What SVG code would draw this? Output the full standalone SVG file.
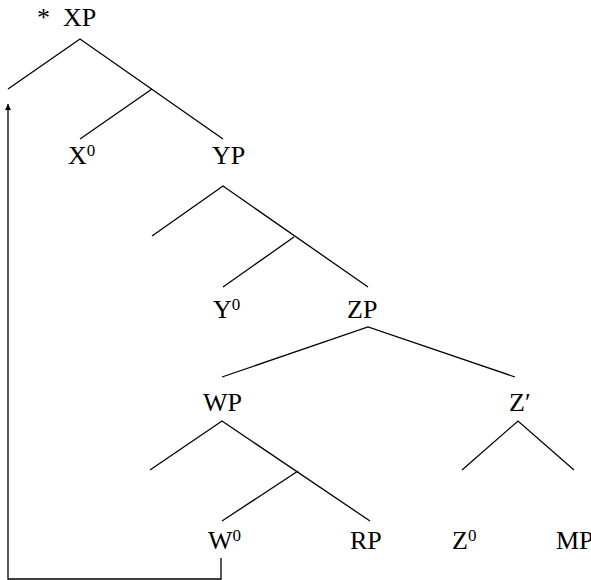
<svg xmlns="http://www.w3.org/2000/svg" width="591" height="580" viewBox="0 0 591 580">
<defs>
<style>
text{font-family:"Liberation Serif","Times New Roman",serif;font-size:26px;fill:#000}
.sup{font-size:17px}
.ln{stroke:#000;stroke-width:1.3;fill:none}
</style>
<marker id="ah" viewBox="0 0 10 10" refX="10" refY="5" markerWidth="6" markerHeight="12" orient="auto" markerUnits="userSpaceOnUse">
<path d="M0,0 L10,5 L0,10 z" fill="#000"/>
</marker>
</defs>
<rect width="591" height="580" fill="#fff"/>
<g id="connectors">
<path class="ln" d="M8,89 L80,39 L223,139"/>
<path class="ln" d="M152,89 L80,139"/>
<path class="ln" d="M152,236 L223,186 L368,287"/>
<path class="ln" d="M294,237 L223,287"/>
<path class="ln" d="M222,377 L368,327 L515,377"/>
<path class="ln" d="M150,470 L222,421 L370,521"/>
<path class="ln" d="M298,471 L222,521"/>
<path class="ln" d="M462,470 L518,421 L574,470"/>
<path class="ln" d="M221,558 L221,579 L8,579 L8,104" marker-end="url(#ah)"/>
</g>
<g id="XP"><text x="37" y="26">*</text><text x="63" y="26">XP</text></g>
<g id="X0"><text x="68" y="164">X<tspan class="sup" dy="-8">0</tspan></text></g>
<g id="YP"><text x="212" y="164">YP</text></g>
<g id="Y0"><text x="213" y="318">Y<tspan class="sup" dy="-8">0</tspan></text></g>
<g id="ZP"><text x="347" y="318">ZP</text></g>
<g id="WP"><text x="203" y="411">WP</text></g>
<g id="Zbar"><text x="509" y="411">Z′</text></g>
<g id="W0"><text x="208" y="549">W<tspan class="sup" dy="-8">0</tspan></text></g>
<g id="RP"><text x="350" y="549">RP</text></g>
<g id="Z0"><text x="452" y="549">Z<tspan class="sup" dy="-8">0</tspan></text></g>
<g id="MP"><text x="556" y="549">MP</text></g>
</svg>
